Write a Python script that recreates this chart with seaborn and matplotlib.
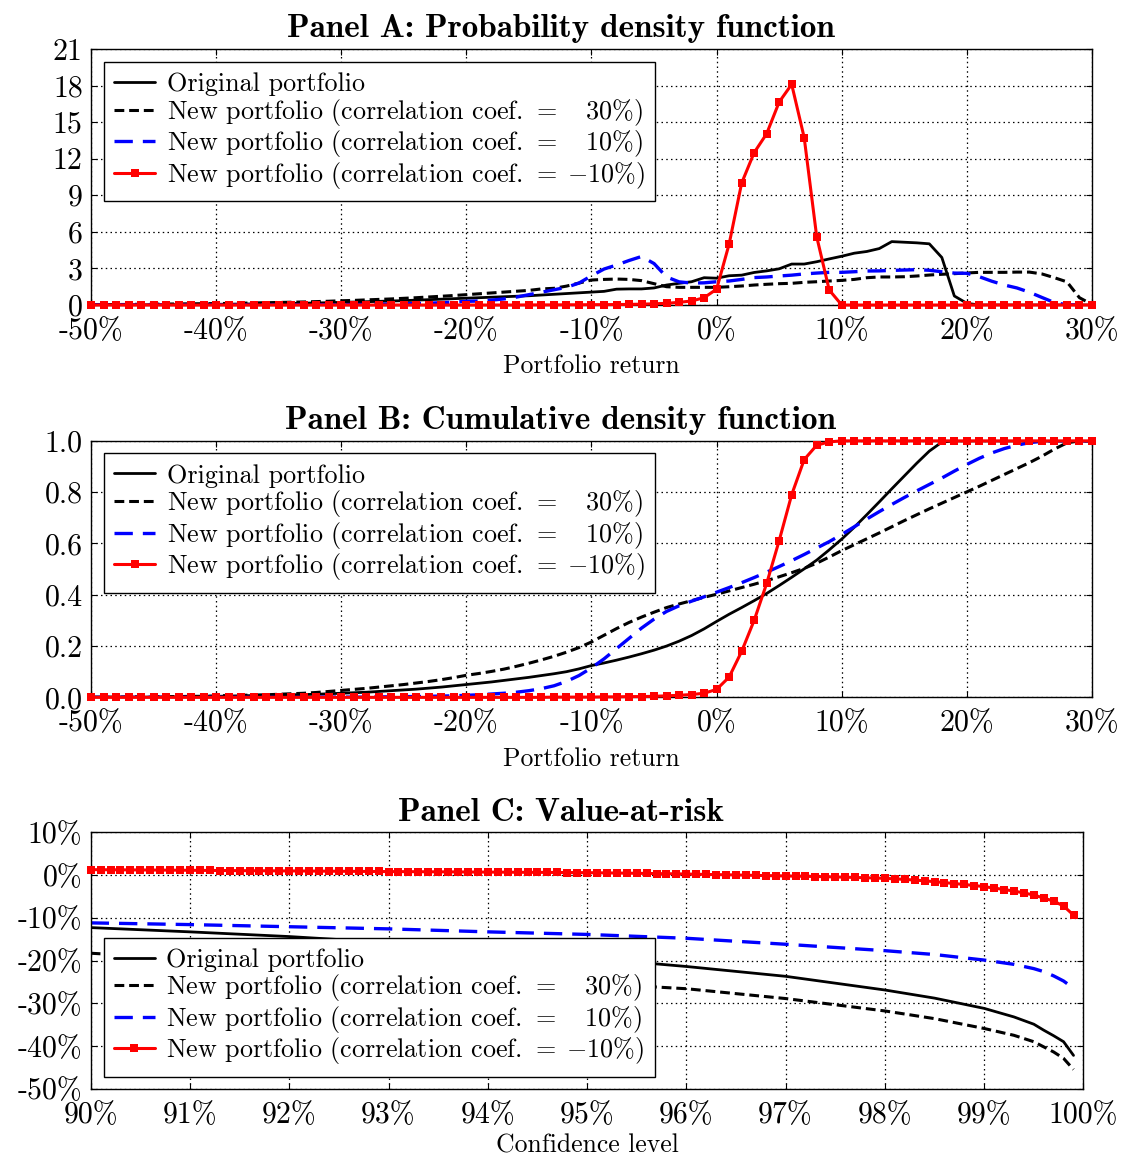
import numpy as np
import pandas as pd
import matplotlib
matplotlib.use("Agg")
import matplotlib.pyplot as plt
import seaborn as sns

# ---------------------------------------------------------------- data
# Portfolio return grid (%), shared by panels A and B
returns = list(range(-50, 31))

# Panel A: probability density
pdf_original = [
    0.00, 0.00, 0.01, 0.01, 0.02, 0.02, 0.03, 0.03, 0.04, 0.05,
    0.06, 0.07, 0.08, 0.09, 0.10, 0.11, 0.13, 0.15, 0.17, 0.19,
    0.22, 0.24, 0.27, 0.30, 0.33, 0.36, 0.40, 0.44, 0.48, 0.52,
    0.56, 0.60, 0.64, 0.68, 0.72, 0.76, 0.82, 0.88, 0.94, 1.00,
    1.06, 1.12, 1.30, 1.32, 1.32, 1.40, 1.64, 1.78, 1.91, 2.24,
    2.20, 2.40, 2.45, 2.67, 2.80, 2.97, 3.36, 3.36, 3.55, 3.78,
    4.00, 4.25, 4.39, 4.63, 5.20, 5.15, 5.10, 5.02, 3.90, 0.74,
    0.14, 0.00, 0.00, 0.00, 0.00, 0.00, 0.00, 0.00, 0.00, 0.00, 0.00,
]
pdf_corr30 = [
    0.02, 0.03, 0.04, 0.05, 0.06, 0.07, 0.08, 0.09, 0.10, 0.11,
    0.12, 0.13, 0.15, 0.17, 0.19, 0.21, 0.23, 0.25, 0.28, 0.31,
    0.35, 0.38, 0.42, 0.46, 0.50, 0.55, 0.60, 0.66, 0.72, 0.78,
    0.85, 0.92, 0.99, 1.06, 1.13, 1.20, 1.32, 1.37, 1.55, 1.80,
    2.05, 2.10, 2.13, 2.10, 2.00, 1.75, 1.50, 1.45, 1.45, 1.45,
    1.45, 1.50, 1.56, 1.64, 1.70, 1.75, 1.78, 1.86, 1.91, 1.97,
    2.02, 2.10, 2.24, 2.30, 2.30, 2.32, 2.38, 2.46, 2.52, 2.57,
    2.63, 2.68, 2.68, 2.68, 2.70, 2.70, 2.55, 2.24, 1.90, 0.60, 0.05,
]
pdf_corr10 = [
    0.00, 0.00, 0.00, 0.00, 0.00, 0.00, 0.00, 0.00, 0.00, 0.00,
    0.00, 0.00, 0.00, 0.00, 0.00, 0.00, 0.01, 0.01, 0.02, 0.02,
    0.03, 0.04, 0.05, 0.06, 0.08, 0.10, 0.12, 0.15, 0.19, 0.24,
    0.30, 0.33, 0.40, 0.50, 0.65, 0.85, 1.05, 1.25, 1.45, 1.80,
    2.40, 2.95, 3.28, 3.65, 3.98, 3.40, 2.30, 1.90, 1.80, 1.82,
    1.91, 1.97, 2.10, 2.25, 2.30, 2.38, 2.45, 2.55, 2.62, 2.68,
    2.68, 2.73, 2.79, 2.80, 2.84, 2.87, 2.90, 2.85, 2.73, 2.62,
    2.60, 2.32, 1.95, 1.64, 1.40, 1.05, 0.62, 0.20, 0.02, 0.00, 0.00,
]
pdf_corr_neg10 = [
    0.00, 0.00, 0.00, 0.00, 0.00, 0.00, 0.00, 0.00, 0.00, 0.00,
    0.00, 0.00, 0.00, 0.00, 0.00, 0.00, 0.00, 0.00, 0.00, 0.00,
    0.00, 0.00, 0.00, 0.00, 0.00, 0.00, 0.00, 0.00, 0.00, 0.00,
    0.00, 0.00, 0.00, 0.00, 0.00, 0.01, 0.01, 0.01, 0.02, 0.02,
    0.03, 0.03, 0.04, 0.05, 0.07, 0.10, 0.14, 0.22, 0.33, 0.60,
    1.30, 5.00, 10.00, 12.50, 14.05, 16.65, 18.10, 13.73, 5.60, 1.23,
    0.00, 0.00, 0.00, 0.00, 0.00, 0.00, 0.00, 0.00, 0.00, 0.00,
    0.00, 0.00, 0.00, 0.00, 0.00, 0.00, 0.00, 0.00, 0.00, 0.00, 0.00,
]

# Panel B: cumulative distribution
cdf_original = [
    0.000, 0.000, 0.000, 0.001, 0.001, 0.001, 0.002, 0.002, 0.003, 0.003,
    0.004, 0.005, 0.006, 0.007, 0.008, 0.009, 0.010, 0.011, 0.012, 0.014,
    0.016, 0.018, 0.020, 0.023, 0.026, 0.029, 0.032, 0.036, 0.040, 0.045,
    0.050, 0.055, 0.060, 0.066, 0.072, 0.078, 0.085, 0.092, 0.100, 0.111,
    0.124, 0.134, 0.145, 0.157, 0.170, 0.184, 0.200, 0.219, 0.241, 0.267,
    0.296, 0.324, 0.350, 0.377, 0.405, 0.436, 0.468, 0.501, 0.535, 0.575,
    0.617, 0.663, 0.712, 0.762, 0.813, 0.863, 0.913, 0.960, 0.995, 1.000,
    1.000, 1.000, 1.000, 1.000, 1.000, 1.000, 1.000, 1.000, 1.000, 1.000, 1.000,
]
cdf_corr30 = [
    0.001, 0.001, 0.001, 0.002, 0.002, 0.002, 0.003, 0.003, 0.004, 0.004,
    0.006, 0.007, 0.008, 0.009, 0.010, 0.012, 0.014, 0.016, 0.019, 0.023,
    0.027, 0.031, 0.035, 0.040, 0.045, 0.050, 0.056, 0.062, 0.069, 0.077,
    0.086, 0.093, 0.101, 0.110, 0.121, 0.133, 0.146, 0.160, 0.176, 0.194,
    0.216, 0.242, 0.268, 0.292, 0.313, 0.332, 0.350, 0.364, 0.377, 0.390,
    0.402, 0.415, 0.428, 0.441, 0.455, 0.470, 0.486, 0.503, 0.523, 0.547,
    0.572, 0.595, 0.618, 0.641, 0.665, 0.689, 0.712, 0.735, 0.757, 0.779,
    0.801, 0.823, 0.846, 0.869, 0.892, 0.915, 0.940, 0.968, 0.992, 1.000, 1.000,
]
cdf_corr10 = [
    0.000, 0.000, 0.000, 0.000, 0.000, 0.000, 0.000, 0.000, 0.000, 0.000,
    0.000, 0.000, 0.000, 0.000, 0.000, 0.000, 0.000, 0.000, 0.001, 0.001,
    0.001, 0.001, 0.001, 0.002, 0.002, 0.003, 0.003, 0.004, 0.005, 0.006,
    0.008, 0.010, 0.013, 0.016, 0.020, 0.026, 0.034, 0.045, 0.062, 0.085,
    0.115, 0.150, 0.190, 0.230, 0.270, 0.305, 0.335, 0.357, 0.375, 0.392,
    0.410, 0.428, 0.447, 0.467, 0.488, 0.510, 0.533, 0.557, 0.582, 0.607,
    0.635, 0.665, 0.695, 0.724, 0.752, 0.779, 0.805, 0.830, 0.855, 0.882,
    0.908, 0.932, 0.953, 0.970, 0.983, 0.993, 0.998, 1.000, 1.000, 1.000, 1.000,
]
cdf_corr_neg10 = [
    0.000, 0.000, 0.000, 0.000, 0.000, 0.000, 0.000, 0.000, 0.000, 0.000,
    0.000, 0.000, 0.000, 0.000, 0.000, 0.000, 0.000, 0.000, 0.000, 0.000,
    0.000, 0.000, 0.000, 0.000, 0.000, 0.000, 0.000, 0.000, 0.000, 0.000,
    0.000, 0.000, 0.000, 0.000, 0.000, 0.000, 0.000, 0.001, 0.001, 0.001,
    0.001, 0.002, 0.002, 0.003, 0.003, 0.004, 0.006, 0.008, 0.011, 0.016,
    0.031, 0.079, 0.179, 0.300, 0.444, 0.611, 0.790, 0.927, 0.983, 0.996,
    1.000, 1.000, 1.000, 1.000, 1.000, 1.000, 1.000, 1.000, 1.000, 1.000,
    1.000, 1.000, 1.000, 1.000, 1.000, 1.000, 1.000, 1.000, 1.000, 1.000, 1.000,
]

# Panel C: value-at-risk (%) by confidence level (%)
levels_fine = [round(90 + 0.1 * i, 1) for i in range(100)]
var_corr_neg10 = [
    1.25, 1.24, 1.22, 1.21, 1.19, 1.18, 1.16, 1.15, 1.13, 1.12,
    1.10, 1.08, 1.07, 1.05, 1.04, 1.02, 1.01, 0.99, 0.98, 0.96,
    0.95, 0.94, 0.92, 0.91, 0.89, 0.88, 0.86, 0.85, 0.83, 0.82,
    0.80, 0.79, 0.78, 0.77, 0.75, 0.74, 0.73, 0.72, 0.70, 0.69,
    0.68, 0.67, 0.66, 0.64, 0.63, 0.62, 0.61, 0.59, 0.58, 0.56,
    0.55, 0.52, 0.49, 0.46, 0.43, 0.40, 0.37, 0.33, 0.30, 0.27,
    0.23, 0.18, 0.13, 0.09, 0.05, 0.01, -0.04, -0.09, -0.14, -0.18,
    -0.23, -0.27, -0.31, -0.35, -0.40, -0.45, -0.51, -0.57, -0.64, -0.71,
    -0.78, -0.90, -1.03, -1.18, -1.36, -1.56, -1.78, -2.00, -2.22, -2.46,
    -2.73, -3.05, -3.40, -3.75, -4.20, -4.68, -5.40, -6.10, -7.26, -9.37,
]
levels_coarse = [90, 91, 92, 93, 94, 95, 96, 97, 98, 98.5,
                 99, 99.3, 99.5, 99.6, 99.7, 99.8, 99.9]
var_original = [-12.3, -13.3, -14.4, -15.8, -17.5, -19.4, -21.4, -23.7, -26.9, -28.8,
                -31.2, -33.2, -34.9, -36.3, -37.6, -39.0, -42.2]
var_corr30 = [-18.3, -19.6, -21.0, -22.4, -23.8, -25.3, -26.6, -28.9, -31.8, -33.6,
              -35.9, -37.5, -39.0, -40.2, -41.4, -42.9, -45.5]
var_corr10 = [-11.2, -11.6, -12.1, -12.6, -13.3, -13.9, -14.8, -16.2, -17.7, -18.6,
              -19.9, -20.9, -21.9, -22.6, -23.6, -24.8, -26.5]

# Axis ticks and texts
return_ticks = [-50, -40, -30, -20, -10, 0, 10, 20, 30]
return_ticklabels = ["-50%", "-40%", "-30%", "-20%", "-10%", "0%", "10%", "20%", "30%"]
pdf_ticks = [0, 3, 6, 9, 12, 15, 18, 21]
cdf_ticks = [0.0, 0.2, 0.4, 0.6, 0.8, 1.0]
cdf_ticklabels = ["0.0", "0.2", "0.4", "0.6", "0.8", "1.0"]
level_ticks = [90, 91, 92, 93, 94, 95, 96, 97, 98, 99, 100]
level_ticklabels = ["90%", "91%", "92%", "93%", "94%", "95%", "96%", "97%", "98%", "99%", "100%"]
var_ticks = [-50, -40, -30, -20, -10, 0, 10]
var_ticklabels = ["-50%", "-40%", "-30%", "-20%", "-10%", "0%", "10%"]

series_labels = [
    "Original portfolio",
    r"New portfolio (correlation coef. $=\;\;\;\:30\%$)",
    r"New portfolio (correlation coef. $=\;\;\;\:10\%$)",
    r"New portfolio (correlation coef. $=\;{-}10\%$)",
]
titles = ["Panel A: Probability density function",
          "Panel B: Cumulative density function",
          "Panel C: Value-at-risk"]

# ---------------------------------------------------------------- style
sns.set_theme(style="ticks")
plt.rcParams.update({
    "font.family": ["cmr10"],
    "mathtext.fontset": "cm",
    "axes.unicode_minus": False,
    "axes.formatter.use_mathtext": True,
    "axes.edgecolor": "black",
    "axes.linewidth": 1.0,
    "xtick.direction": "in",
    "ytick.direction": "in",
    "xtick.top": True,
    "ytick.right": True,
    "xtick.color": "black",
    "ytick.color": "black",
    "xtick.major.size": 4,
    "ytick.major.size": 4,
    "text.color": "black",
    "axes.labelcolor": "black",
})

TICK_FS = 21.5
LABEL_FS = 18.5
LEGEND_FS = 18.8
TITLE_FS = 23.9

styles = [
    dict(color="black", linewidth=2.0, linestyle="-"),
    dict(color="black", linewidth=2.2, linestyle=(0, (3.2, 1.6))),
    dict(color="#0000ff", linewidth=2.4, linestyle=(0, (5.5, 3.0))),
    dict(color="#ff0000", linewidth=2.2, linestyle="-", marker="s",
         markersize=6.0, markeredgewidth=0, markeredgecolor="#ff0000",
         clip_on=False, zorder=5),
]

fig = plt.figure(figsize=(11.21, 11.58), dpi=100)
axA = fig.add_axes([0.0812, 0.7366, 0.8929, 0.2211])
axB = fig.add_axes([0.0812, 0.3978, 0.8929, 0.2215])
axC = fig.add_axes([0.0809, 0.0598, 0.8856, 0.2215])


def draw(ax, x_list, y_list):
    for x, y, lab, st in zip(x_list, y_list, series_labels, styles):
        sns.lineplot(x=x, y=y, ax=ax, label=lab, legend=False,
                     errorbar=None, sort=False, **st)


def finish(ax, legend_anchor, legend_loc):
    ax.set_axisbelow(True)
    ax.grid(True, color="black", linestyle=(0, (1.2, 2.6)), linewidth=0.9)
    for sp in ax.spines.values():
        sp.set_color("black")
        sp.set_linewidth(1.0)
    ax.tick_params(axis="x", labelsize=TICK_FS, pad=9, width=0.8)
    ax.tick_params(axis="y", labelsize=TICK_FS, pad=6, width=0.8)
    handles, labels = ax.get_legend_handles_labels()
    leg = ax.legend(handles, labels, loc=legend_loc, bbox_to_anchor=legend_anchor,
                    borderaxespad=0, frameon=True, fancybox=False, framealpha=1,
                    edgecolor="black", fontsize=LEGEND_FS, handlelength=1.55,
                    handletextpad=0.45, labelspacing=0.02, borderpad=0.4)
    leg.get_frame().set_linewidth(1.0)
    leg.set_zorder(10)


# Panel A
draw(axA, [returns] * 4, [pdf_original, pdf_corr30, pdf_corr10, pdf_corr_neg10])
axA.set_xlim(-50, 30)
axA.set_ylim(0, 21)
axA.set_xticks(return_ticks, return_ticklabels)
axA.set_yticks(pdf_ticks, [str(t) for t in pdf_ticks])
axA.set_xlabel("Portfolio return", fontsize=LABEL_FS, labelpad=7)
axA.set_ylabel("")
finish(axA, (0.013, 0.949), "upper left")

# Panel B
draw(axB, [returns] * 4, [cdf_original, cdf_corr30, cdf_corr10, cdf_corr_neg10])
axB.set_xlim(-50, 30)
axB.set_ylim(0, 1.0)
axB.set_xticks(return_ticks, return_ticklabels)
axB.set_yticks(cdf_ticks, cdf_ticklabels)
axB.set_xlabel("Portfolio return", fontsize=LABEL_FS, labelpad=7)
axB.set_ylabel("")
finish(axB, (0.013, 0.951), "upper left")

# Panel C
draw(axC, [levels_coarse, levels_coarse, levels_coarse, levels_fine],
     [var_original, var_corr30, var_corr10, var_corr_neg10])
axC.set_xlim(90, 100)
axC.set_ylim(-50, 10)
axC.set_xticks(level_ticks, level_ticklabels)
axC.set_yticks(var_ticks, var_ticklabels)
axC.set_xlabel("Confidence level", fontsize=LABEL_FS, labelpad=4)
axC.set_ylabel("")
finish(axC, (0.013, 0.047), "lower left")

for ypos, t in zip([0.968, 0.6295, 0.291], titles):
    fig.text(0.5, ypos, t, ha="center", va="baseline",
             fontsize=TITLE_FS, family="cmb10", weight="bold")

fig.savefig("out.png", dpi=100)
